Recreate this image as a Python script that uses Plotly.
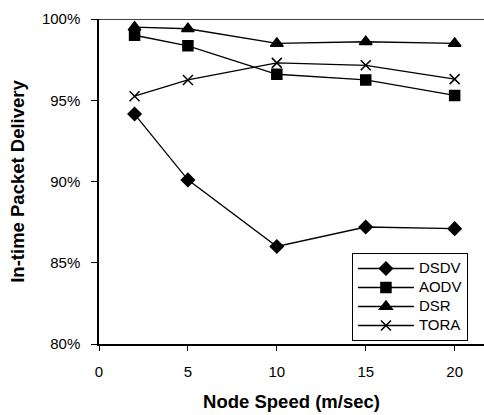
import plotly.graph_objects as go

speeds = [2, 5, 10, 15, 20]
dsdv = [94.15, 90.1, 86.0, 87.2, 87.1]
aodv = [99.0, 98.35, 96.6, 96.25, 95.3]
dsr = [99.5, 99.4, 98.5, 98.6, 98.5]
tora = [95.25, 96.25, 97.3, 97.15, 96.3]

series = [
    ("DSDV", dsdv, "diamond", 10),
    ("AODV", aodv, "square", 10),
    ("DSR", dsr, "triangle-up", 11),
    ("TORA", tora, "x-thin", 10),
]

fig = go.Figure()
for name, vals, sym, sz in series:
    fig.add_trace(go.Scatter(
        x=speeds, y=vals, name="<span style='font-size:15px'>" + name + "</span>",
        mode="lines+markers",
        line=dict(color="black", width=1.3),
        marker=dict(symbol=sym, size=sz, color="black",
                    line=dict(color="black", width=1.5)),
    ))

fig.add_shape(type="line", xref="paper", yref="y", x0=0, x1=1, y0=100, y1=100,
              line=dict(color="black", width=1.5))

fig.update_layout(
    width=484, height=415,
    margin=dict(l=99, r=0, t=19, b=71),
    paper_bgcolor="white", plot_bgcolor="white",
    font=dict(family="Liberation Sans, Arial, sans-serif", size=15, color="black"),
    showlegend=True,
    legend=dict(x=0.657, y=0.28, xanchor="left", yanchor="top",
                bordercolor="black", borderwidth=1, bgcolor="white",
                font=dict(size=11), tracegroupgap=0, itemwidth=56,
                itemsizing="trace"),
    xaxis=dict(range=[0, 21.65], tickvals=[0, 5, 10, 15, 20],
               showgrid=False, zeroline=False, showline=True, linecolor="black",
               linewidth=1.5, ticks="outside", ticklen=5, tickcolor="black",
               ticklabelstandoff=8,
               title=dict(text="<b>Node Speed (m/sec)</b>", font=dict(size=18.5), standoff=16)),
    yaxis=dict(range=[80, 100], tickvals=[80, 85, 90, 95, 100],
               ticktext=["80%", "85%", "90%", "95%", "100%"],
               showgrid=False, zeroline=False, showline=True, linecolor="black",
               linewidth=1.5, ticks="outside", ticklen=6, tickcolor="black",
               ticklabelstandoff=8,
               title=dict(text="<b>In-time Packet Delivery</b>", font=dict(size=18.5), standoff=12)),
)

fig.write_html("out.html")
